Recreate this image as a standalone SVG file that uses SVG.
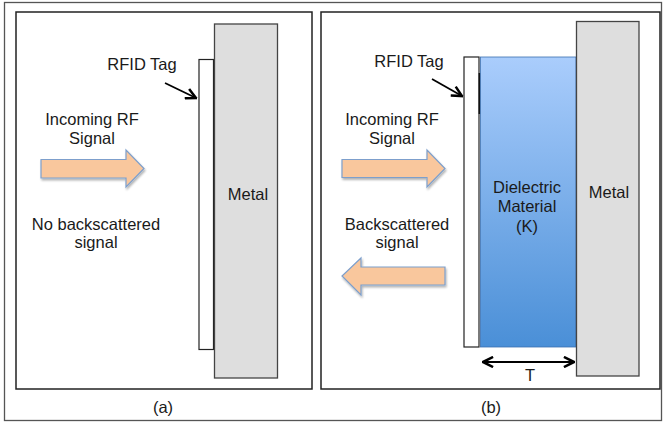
<svg xmlns="http://www.w3.org/2000/svg" width="663" height="422" viewBox="0 0 663 422">
<style>
text{font-family:"Liberation Sans",Arial,sans-serif;font-size:16.5px;fill:#1a1a1a;text-anchor:middle}
.panel{fill:#fff;stroke:#222;stroke-width:1.5}
.tag{fill:#fff;stroke:#222;stroke-width:1.2}
.metal{fill:#dedede;stroke:#444;stroke-width:1.3}
.blk{fill:#f9c79d;stroke:#7d9fcc;stroke-width:1.2;filter:url(#sh)}
.ptr{stroke:#000;stroke-width:1.8;fill:none}
</style>
<defs>
<linearGradient id="diel" x1="0" y1="0" x2="0" y2="1">
<stop offset="0" stop-color="#aacdfc"/>
<stop offset="1" stop-color="#4a8fd7"/>
</linearGradient>
<marker id="ah" viewBox="0 0 10 10" refX="9" refY="5" markerWidth="7" markerHeight="7" orient="auto-start-reverse">
<path d="M1,1 L9,5 L1,9" fill="none" stroke="#000" stroke-width="2"/>
</marker>
<filter id="sh" x="-20%" y="-20%" width="150%" height="150%">
<feGaussianBlur in="SourceAlpha" stdDeviation="1.2"/>
<feOffset dx="1" dy="1.5" result="b"/>
<feComponentTransfer><feFuncA type="linear" slope="0.3"/></feComponentTransfer>
<feMerge><feMergeNode/><feMergeNode in="SourceGraphic"/></feMerge>
</filter>
</defs>
<rect x="4.5" y="2.5" width="657" height="418" fill="#fff" stroke="#555" stroke-width="1.3"/>

<g id="panel-a">
<rect class="panel" x="16" y="12" width="296" height="377"/>
<g id="tag-a"><rect class="tag" x="199" y="59.5" width="14.5" height="290"/></g>
<g id="metal-a"><rect class="metal" x="214.5" y="24" width="63" height="354"/>
<text x="248" y="200">Metal</text></g>
<g id="label-tag-a"><text x="142" y="70">RFID Tag</text></g>
<g id="incoming-a"><text x="92" y="125">Incoming RF</text><text x="92" y="144">Signal</text>
<path class="blk" d="M41,159.5 L126,159.5 L126,150 L144,168.5 L126,187 L126,178 L41,178 Z"/></g>
<g id="nobs-a"><text x="96" y="230">No backscattered</text><text x="96" y="248">signal</text></g>
<text x="163" y="413">(a)</text>
</g>

<g id="panel-b">
<rect class="panel" x="321" y="12" width="339" height="377"/>
<g id="tag-b"><rect class="tag" x="464" y="57" width="15" height="290"/>
<line x1="479.5" y1="73" x2="479.5" y2="114" stroke="#111" stroke-width="1.8"/></g>
<g id="dielectric"><rect x="480.5" y="57" width="95.5" height="290" fill="url(#diel)" stroke="#3a6fb0" stroke-width="0.8"/>
<text x="527" y="193">Dielectric</text><text x="527" y="212">Material</text><text x="527" y="232">(K)</text></g>
<g id="metal-b"><rect class="metal" x="576.5" y="21.5" width="62.5" height="354.5"/>
<text x="609" y="198">Metal</text></g>
<g id="label-tag-b"><text x="409" y="67">RFID Tag</text></g>
<g id="incoming-b"><text x="392" y="125">Incoming RF</text><text x="392" y="144">Signal</text>
<path class="blk" d="M342,159.5 L427,159.5 L427,150 L445,168.5 L427,187 L427,177.5 L342,177.5 Z"/></g>
<g id="backscatter-b"><text x="397" y="230">Backscattered</text><text x="397" y="248">signal</text>
<path class="blk" d="M445,267 L361,267 L361,258 L342,276 L361,295 L361,285 L445,285 Z"/></g>
<text x="530" y="381">T</text>
<text x="491" y="413">(b)</text>
</g>

<g id="connectors">
<line class="ptr" x1="165" y1="83" x2="196" y2="98" marker-end="url(#ah)"/>
<line class="ptr" x1="432" y1="79" x2="462" y2="96" marker-end="url(#ah)"/>
<line class="ptr" x1="483" y1="362" x2="574" y2="362" marker-start="url(#ah)" marker-end="url(#ah)"/>
</g>
</svg>
